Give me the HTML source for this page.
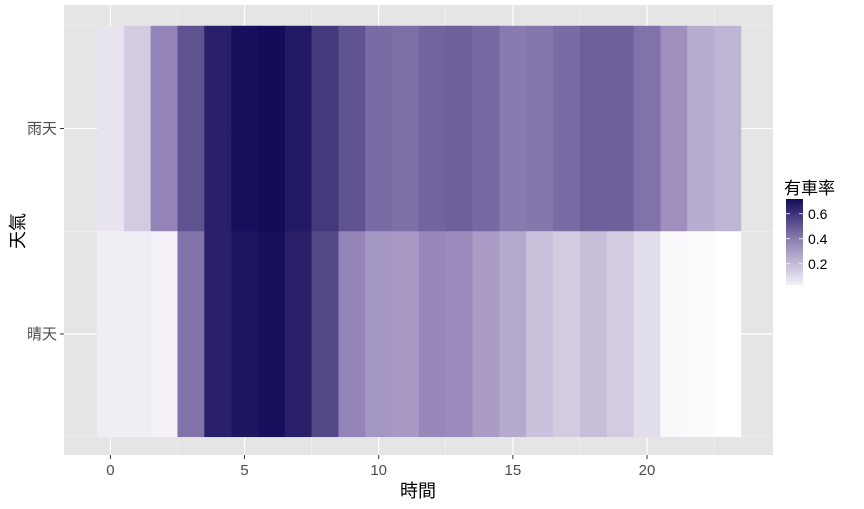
<!DOCTYPE html>
<html><head><meta charset="utf-8"><style>
body{margin:0;background:#fff;font-family:"Liberation Sans","Noto Sans CJK TC",sans-serif}
</style></head><body>
<svg id="c" width="864" height="504" xmlns="http://www.w3.org/2000/svg" style="font-family:'Liberation Sans','Noto Sans CJK TC',sans-serif">
<rect x="64" y="5" width="709" height="450" fill="#e5e5e5"/>
<g id="grid"></g><g id="tiles"></g><g id="axes"></g>
<text x="418" y="497" font-size="18" text-anchor="middle" fill="#000">時間</text>
<text transform="translate(24,231) rotate(-90)" font-size="18" text-anchor="middle" fill="#000">天氣</text>
<text x="784" y="194" font-size="17" fill="#000">有車率</text>
<defs><linearGradient id="lg" x1="0" y1="1" x2="0" y2="0">
<stop offset="0" stop-color="#f3f1f7"/><stop offset="0.5" stop-color="#9484b7"/><stop offset="1" stop-color="#120b58"/></linearGradient></defs>
<rect x="786" y="199" width="17" height="86" fill="url(#lg)"/>
<g id="legend"></g>
</svg>
<script>
const hours=[0,1,2,3,4,5,6,7,8,9,10,11,12,13,14,15,16,17,18,19,20,21,22,23];
const weathers=["雨天","晴天"];
const rainValues=[0.10,0.17,0.38,0.52,0.66,0.71,0.72,0.68,0.59,0.52,0.45,0.44,0.47,0.48,0.46,0.41,0.42,0.45,0.48,0.48,0.43,0.35,0.26,0.24];
const sunnyValues=[0.07,0.07,0.06,0.43,0.66,0.69,0.71,0.66,0.55,0.38,0.33,0.32,0.37,0.36,0.31,0.27,0.20,0.17,0.21,0.17,0.12,0.04,0.03,0.02];
const xTicks=[0,5,10,15,20];
const legendTicks=[0.2,0.4,0.6];
const NS="http://www.w3.org/2000/svg";
const x=h=>110.4+26.83*h;
const yc=i=>128.5+205.5*i;
const lx=v=>285-(v-0.03)*125;
function mk(t,a,p){const e=document.createElementNS(NS,t);for(const k in a)e.setAttribute(k,a[k]);p.appendChild(e);return e;}
function hex(c){return [1,3,5].map(i=>parseInt(c.substr(i,2),16));}
const stops=[[0,hex("#ffffff")],[0.5,hex("#9888ba")],[1,hex("#120b58")]];
function col(v){let t=Math.max(0,Math.min(1,(v-0.02)/0.7));let a=t<0.5?stops[0]:stops[1],b=t<0.5?stops[1]:stops[2];let u=(t-a[0])/(b[0]-a[0]);return "rgb("+a[1].map((c,i)=>Math.round(c+(b[1][i]-c)*u)).join(",")+")";}
const g=document.getElementById("grid"),tl=document.getElementById("tiles"),ax=document.getElementById("axes"),lg=document.getElementById("legend");
for(let m=2.5;m<=25;m+=5){if(x(m)>773)continue;const l=mk("line",{x1:x(m),x2:x(m),y1:5,y2:455,stroke:"#f2f2f2","stroke-width":0.6},g);}
[-0.5,0.5,1.5].forEach(m=>{if(yc(m)>5&&yc(m)<455){const l=mk("line",{x1:64,x2:773,y1:yc(m),y2:yc(m),stroke:"#f2f2f2","stroke-width":0.6},g);}});
xTicks.forEach(t=>{const l=mk("line",{x1:x(t),x2:x(t),y1:5,y2:455,stroke:"#fff","stroke-width":1.2},g);
const k=mk("line",{x1:x(t),x2:x(t),y1:455,y2:459,stroke:"#333"},ax);
const tx=mk("text",{x:x(t),y:475,"font-size":15,"text-anchor":"middle",fill:"#4d4d4d"},ax);tx.textContent=t;});
weathers.forEach((w,i)=>{const l=mk("line",{x1:64,x2:773,y1:yc(i),y2:yc(i),stroke:"#fff","stroke-width":1.2},g);
const k=mk("line",{x1:60,x2:64,y1:yc(i),y2:yc(i),stroke:"#333"},ax);
const tx=mk("text",{x:57,y:yc(i)+5,"font-size":15,"text-anchor":"end",fill:"#4d4d4d"},ax);tx.textContent=w;});
[rainValues,sunnyValues].forEach((vals,i)=>{hours.forEach((h,j)=>{const r=mk("rect",{x:x(h-0.5),y:yc(i-0.5),width:x(h+0.5)-x(h-0.5)+0.3,height:205.5+0.3,fill:col(vals[j])},tl);

});});
legendTicks.forEach(t=>{const y=lx(t);mk("line",{x1:786,x2:790,y1:y,y2:y,stroke:"#fff","stroke-width":0.8},lg);mk("line",{x1:799,x2:803,y1:y,y2:y,stroke:"#fff","stroke-width":0.8},lg);
const tx=mk("text",{x:808,y:y+5,"font-size":14,fill:"#000"},lg);tx.textContent=t.toFixed(1);});
</script>
</body></html>
